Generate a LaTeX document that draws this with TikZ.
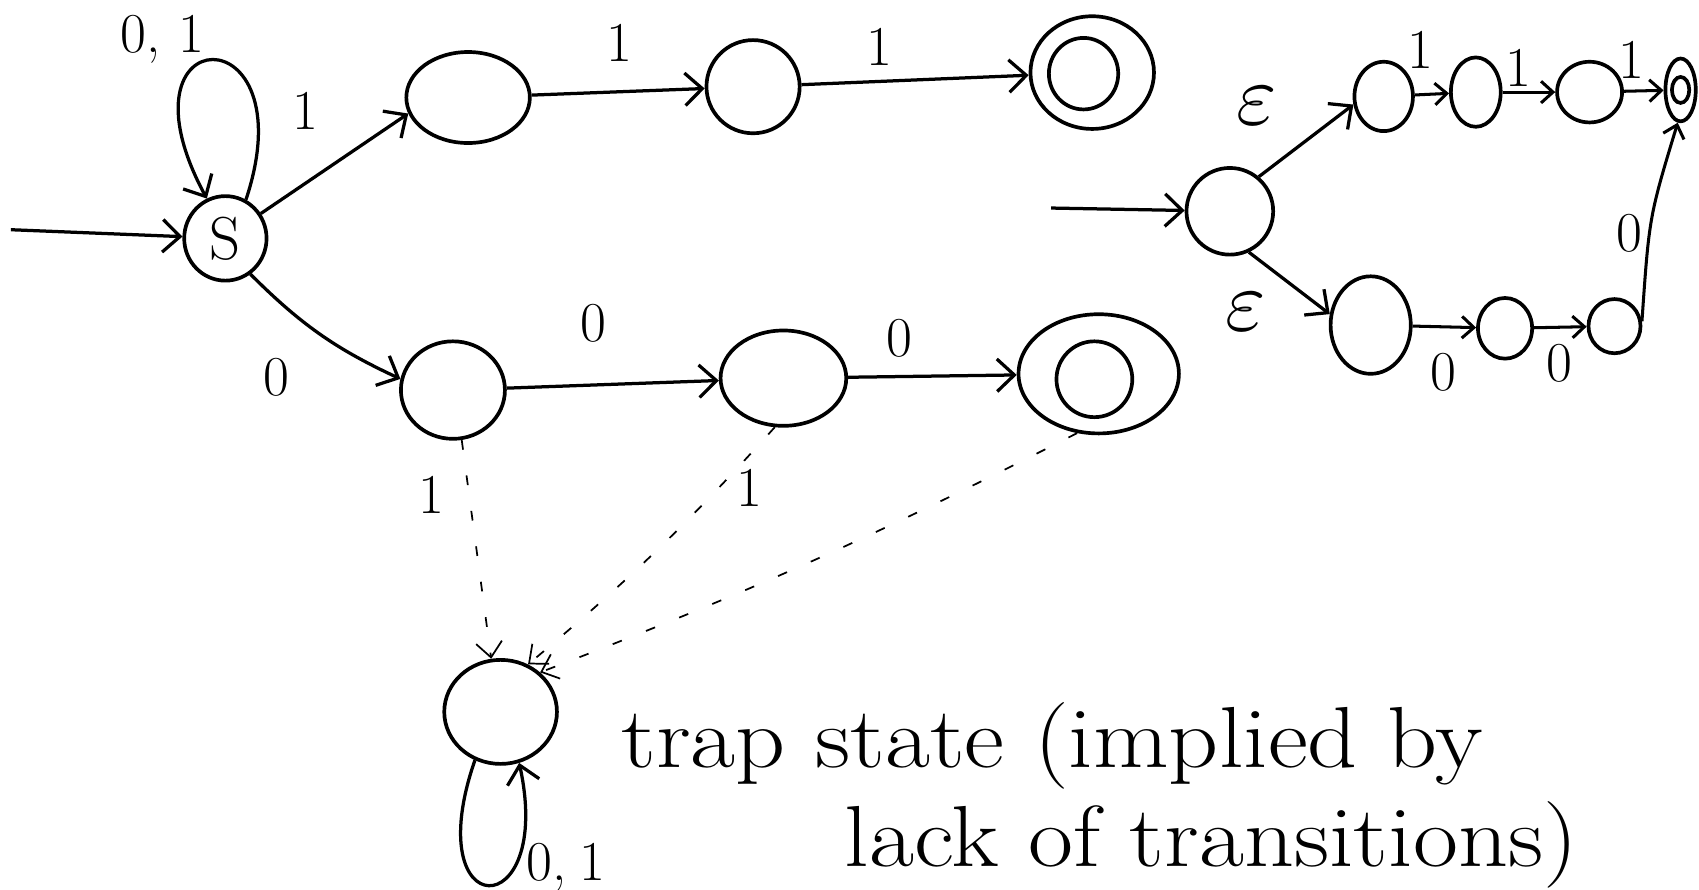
\documentclass[tikz,border=0pt]{standalone}
\usetikzlibrary{arrows.meta,shapes.geometric}
\begin{document}
\begin{tikzpicture}[x=1pt,y=-1pt,line width=3pt,
  st/.style={draw,ellipse,inner sep=0pt,line width=3.4pt},
  lab/.style={font=\fontsize{52}{52}\selectfont,inner sep=0pt},
  eps/.style={inner sep=0pt},
  arr/.style={-{Straight Barb[length=16pt,width=30pt,line width=3pt]},line width=3pt},
  sarr/.style={-{Straight Barb[length=11pt,width=20pt,line width=2.8pt]},line width=2.8pt},
  dsh/.style={line width=1.6pt,dash pattern=on 9pt off 24pt,-{Straight Barb[length=14pt,width=24pt,line width=1.6pt]}},
  txt/.style={font=\fontsize{80}{90}\selectfont,inner sep=0pt,anchor=west}]
\useasboundingbox (0,0) rectangle (1568,821);
% left automaton
\node[st,minimum width=76pt,minimum height=78pt,font=\fontsize{56}{56}\selectfont] (S) at (208,220) {S};
\node[st,minimum width=114pt,minimum height=84pt] (q1) at (432,90) {};
\node[st,minimum width=86pt,minimum height=86pt] (q2) at (695,80) {};
\node[st,minimum width=114pt,minimum height=104pt] (q3o) at (1008,67) {};
\node[st,minimum width=64pt,minimum height=66pt] (q3i) at (1000,68) {};
\node[st,minimum width=96pt,minimum height=90pt] (p1) at (418,360) {};
\node[st,minimum width=116pt,minimum height=88pt] (p2) at (723,349) {};
\node[st,minimum width=148pt,minimum height=110pt] (p3o) at (1014,345) {};
\node[st,minimum width=70pt,minimum height=70pt] (p3i) at (1010,350) {};
\node[st,minimum width=104pt,minimum height=96pt] (trap) at (462,657) {};
\coordinate (i1) at (10,212);
\draw[arr] (i1) -- (S);
\draw[arr] (S.62) .. controls (285,10) and (100,15) .. (S.115);
\draw[arr] (S.35) -- (q1.195);
\draw[arr] (S.-55) to[bend right=10] (p1.168);
\draw[arr] (q1) -- (q2);
\draw[arr] (q2) -- (q3o);
\draw[arr] (p1) -- (p2);
\draw[arr] (p2) -- (p3o);
\draw[dsh] (p1.-80) -- (trap.100);
\draw[dsh] (p2.-100) to[bend left=4] (trap.60);
\draw[dsh] (p3o.-110) to[bend left=3] (trap.45);
\draw[arr] (trap.-118) .. controls (385,855) and (512,855) .. (trap.-70);
\node[lab] (l1) at (150,36) {0,\hspace{16pt}1};
\node[lab] (l2) at (282,102) {1};
\node[lab] (l3) at (572,40) {1};
\node[lab] (l4) at (812,43) {1};
\node[lab] (l5) at (255,348) {0};
\node[lab] (l6) at (548,298) {0};
\node[lab] (l7) at (830,312) {0};
\node[lab] (l8) at (398,457) {1};
\node[lab] (l9) at (692,450) {1};
\node[lab] (l10) at (522,800) {0,\hspace{12pt}1};
\node[txt] (t1) at (572,688) {\scalebox{1.13}[1]{trap state (implied by}};
\node[txt] (t2) at (778,780) {\scalebox{1.13}[1]{lack of transitions)}};
% right automaton
\node[st,minimum width=80pt,minimum height=80pt] (r0) at (1135,195) {};
\node[st,minimum width=54pt,minimum height=64pt] (a1) at (1277,89) {};
\node[st,minimum width=46pt,minimum height=64pt] (a2) at (1362,85) {};
\node[st,minimum width=60pt,minimum height=56pt] (a3) at (1467,85) {};
\node[st,minimum width=28pt,minimum height=58pt] (a4o) at (1551,83) {};
\node[st,minimum width=16pt,minimum height=24pt] (a4i) at (1551,83) {};
\node[st,minimum width=74pt,minimum height=90pt] (b1) at (1265,300) {};
\node[st,minimum width=50pt,minimum height=56pt] (b2) at (1389,303) {};
\node[st,minimum width=48pt,minimum height=50pt] (b3) at (1490,301) {};
\coordinate (i2) at (970,192);
\draw[arr] (i2) -- (r0);
\draw[arr] (r0.50) -- (a1.195);
\draw[arr] (r0.-65) -- (b1.165);
\draw[sarr] (a1) -- (a2);
\draw[sarr] (a2) -- (a3);
\draw[sarr] (a3) -- (a4o);
\draw[sarr] (b1) -- (b2);
\draw[sarr] (b2) -- (b3);
\draw[sarr] (b3.10) .. controls (1522,200) .. (a4o.-95);
\node[eps] (e1) at (1160,98) {\scalebox{8}{$\varepsilon$}};
\node[eps] (e2) at (1150,288) {\scalebox{8}{$\varepsilon$}};
\node[lab] (m1) at (1311,46) {1};
\node[lab] (m2) at (1401,63) {1};
\node[lab] (m3) at (1506,55) {1};
\node[lab] (m4) at (1332,344) {0};
\node[lab] (m5) at (1439,335) {0};
\node[lab] (m6) at (1504,215) {0};
\end{tikzpicture}
\end{document}
